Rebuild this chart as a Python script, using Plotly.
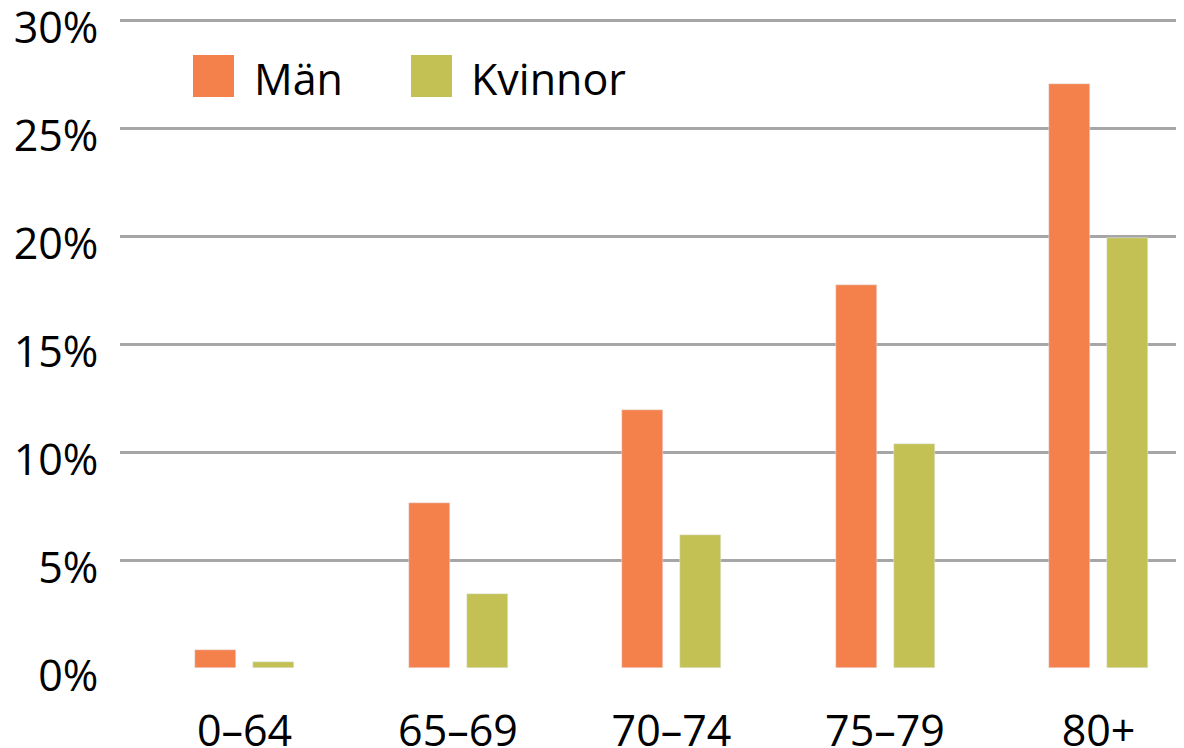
import plotly.graph_objects as go

categories = ["0–64", "65–69", "70–74", "75–79", "80+"]
man = [0.83, 7.64, 11.94, 17.73, 27.04]
kvinnor = [0.28, 3.43, 6.16, 10.37, 19.92]
series_names = ["Män", "Kvinnor"]
y_ticks = [0, 5, 10, 15, 20, 25, 30]
y_tick_labels = [f"{v}%" for v in y_ticks]

ORANGE = "#F4804B"
GREEN = "#C3C153"
FONT = "Open Sans"
FS = 43

x_idx = list(range(len(categories)))

ppu = 213.5  # pixels per category
BAR_W = 41 / ppu
fig = go.Figure()
fig.add_trace(go.Bar(x=x_idx, y=man, name=series_names[0], marker_color=ORANGE,
                     width=BAR_W, offset=-49.5 / ppu, showlegend=False))
fig.add_trace(go.Bar(x=x_idx, y=kvinnor, name=series_names[1], marker_color=GREEN,
                     width=BAR_W, offset=8.5 / ppu, showlegend=False))

# page body has an 8px margin; layout is specified in viewport pixels
L, R, T, B = 112, 0, 0, 88
W, H = 1184 - L - R, 748 - T - B


def px(x_vp):
    return (x_vp - 8 - L) / W


def py(y_vp):
    return (H + T - (y_vp - 8)) / H


shapes = []
annotations = []
for name, col, x0, tx in [(series_names[0], ORANGE, 193, 252), (series_names[1], GREEN, 411, 469)]:
    shapes.append(dict(type="rect", xref="paper", yref="paper", x0=px(x0), x1=px(x0 + 41),
                       y0=py(97), y1=py(55), fillcolor=col, line=dict(width=0)))
    annotations.append(dict(xref="paper", yref="paper", x=px(tx), y=py(78), text=name,
                            showarrow=False, xanchor="left", yanchor="middle",
                            font=dict(family=FONT, size=FS, color="#000000")))

x0_range = -(244.5 - 120) / ppu
fig.update_layout(
    width=1184, height=748,
    margin=dict(l=L, r=R, t=T, b=B, autoexpand=False),
    paper_bgcolor="white", plot_bgcolor="white",
    bargap=0, barmode="group",
    shapes=shapes, annotations=annotations,
    font=dict(family=FONT, size=FS, color="#000000"),
)
fig.update_xaxes(
    range=[x0_range, x0_range + W / ppu], tickmode="array", tickvals=x_idx, ticktext=categories,
    showgrid=False, zeroline=False, showline=False, automargin=False,
    ticks="outside", ticklen=25, tickcolor="rgba(0,0,0,0)",
    ticklabeloverflow="allow",
    tickfont=dict(family=FONT, size=FS, color="#000000"),
)
fig.update_yaxes(
    range=[0, 30 + 12 / 21.6], tickmode="array", tickvals=y_ticks, ticktext=y_tick_labels,
    showgrid=True, gridcolor="#A6A6A6", gridwidth=2.5,
    zeroline=False, showline=False, automargin=False,
    ticks="outside", ticklen=12, tickcolor="rgba(0,0,0,0)",
    ticklabelshift=8, ticklabeloverflow="allow",
    tickfont=dict(family=FONT, size=FS, color="#000000"),
)

fig.write_html("out.html")
